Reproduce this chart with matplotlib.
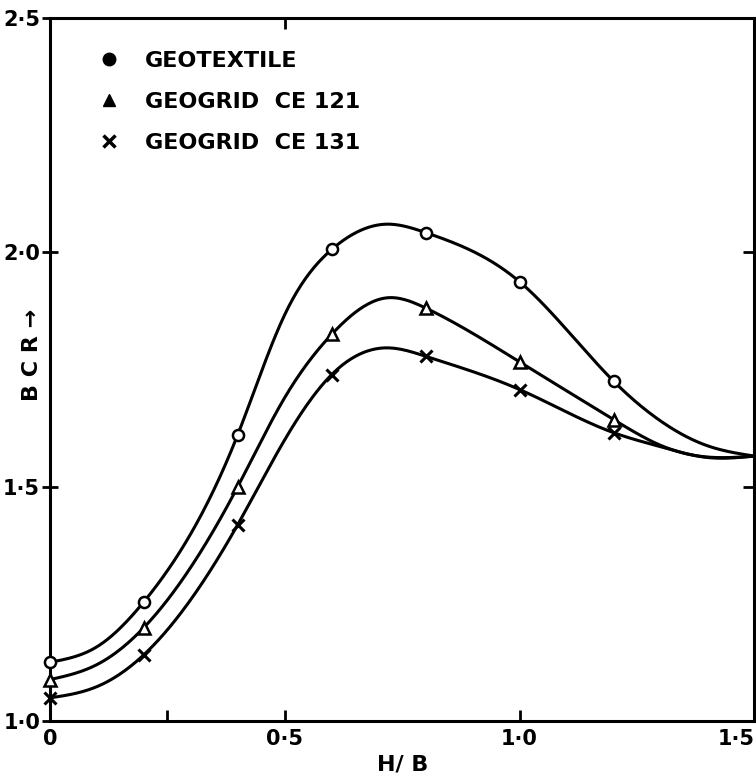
import matplotlib.pyplot as plt
import numpy as np
from matplotlib.lines import Line2D

# measured points (markers)
hb = [0.0, 0.2, 0.4, 0.6, 0.8, 1.0, 1.2]
bcr_geotextile = [1.125, 1.254, 1.611, 2.006, 2.042, 1.937, 1.725]
bcr_ce121 = [1.088, 1.199, 1.50, 1.825, 1.881, 1.766, 1.643]
bcr_ce131 = [1.049, 1.141, 1.419, 1.739, 1.778, 1.707, 1.615]

# hand-drawn curves
curve_hb = [0.0, 0.1, 0.2, 0.4, 0.5, 0.6, 0.72, 0.8, 1.0, 1.2, 1.3, 1.4, 1.5]
curve_geotextile = [1.125, 1.158, 1.254, 1.611, 1.867, 2.006, 2.060, 2.042, 1.937,
                    1.725, 1.640, 1.587, 1.565]
curve_ce121 = [1.088, 1.12, 1.199, 1.50, 1.69, 1.825, 1.903, 1.881, 1.766,
               1.643, 1.588, 1.563, 1.565]
curve_ce131 = [1.049, 1.073, 1.141, 1.419, 1.60, 1.739, 1.796, 1.778, 1.707,
               1.615, 1.585, 1.562, 1.565]

labels = ['GEOTEXTILE', 'GEOGRID  CE 121', 'GEOGRID  CE 131']
markers = ['o', '^', 'x']

x_ticks = [0, 0.5, 1.0, 1.5]
x_ticklabels = ['0', '0·5', '1·0', '1·5']
y_ticks = [1.0, 1.5, 2.0, 2.5]
y_ticklabels = ['1·0', '1·5', '2·0', '2·5']


def smooth(x, y, n=500):
    # natural cubic spline through the traced points
    x = np.asarray(x, float)
    y = np.asarray(y, float)
    k = len(x)
    h = np.diff(x)
    A = np.zeros((k, k))
    r = np.zeros(k)
    A[0, 0] = A[-1, -1] = 1
    for i in range(1, k - 1):
        A[i, i - 1] = h[i - 1]
        A[i, i] = 2 * (h[i - 1] + h[i])
        A[i, i + 1] = h[i]
        r[i] = 6 * ((y[i + 1] - y[i]) / h[i] - (y[i] - y[i - 1]) / h[i - 1])
    M = np.linalg.solve(A, r)
    xs = np.linspace(x[0], x[-1], n)
    i = np.clip(np.searchsorted(x, xs) - 1, 0, k - 2)
    hi = h[i]
    a = x[i + 1] - xs
    b = xs - x[i]
    ys = (M[i] * a**3 + M[i + 1] * b**3) / (6 * hi) \
        + (y[i] / hi - M[i] * hi / 6) * a + (y[i + 1] / hi - M[i + 1] * hi / 6) * b
    return xs, ys


fig = plt.figure(figsize=(7.56, 7.81), dpi=100)
ax = fig.add_axes([0.066, 0.077, 0.932, 0.900])

for cy, my, mk in zip([curve_geotextile, curve_ce121, curve_ce131],
                      [bcr_geotextile, bcr_ce121, bcr_ce131], markers):
    xs, ys = smooth(curve_hb, cy)
    ax.plot(xs, ys, color='black', lw=2.2, solid_capstyle='round', zorder=2)
    if mk == 'x':
        ax.plot(hb, my, ls='none', marker='x', ms=9, mew=2.2, color='black', zorder=3,
                clip_on=False)
    else:
        ax.plot(hb, my, ls='none', marker=mk, ms=8, mew=1.8, mfc='white', mec='black',
                zorder=3, clip_on=False)

ax.set_xlim(0, 1.5)
ax.set_ylim(1.0, 2.5)

for s in ax.spines.values():
    s.set_linewidth(2.2)

ax.set_xticks(x_ticks, x_ticklabels)
ax.set_xticks([0.25], minor=True)
ax.set_yticks(y_ticks, y_ticklabels)
ax.tick_params(axis='x', which='both', direction='in', length=8, width=2, pad=6,
               labelsize=15)
ax.tick_params(axis='y', direction='inout', length=12, width=2, pad=1, labelsize=15)
for t in ax.get_xticklabels() + ax.get_yticklabels():
    t.set_fontweight('bold')
ax.get_xticklabels()[-1].set_ha('right')

top = ax.secondary_xaxis('top')
top.set_xticks([0.5], labels=[])
top.tick_params(direction='in', length=8, width=2)
right = ax.secondary_yaxis('right')
right.set_yticks([1.5, 2.0], labels=[])
right.tick_params(direction='in', length=8, width=2)

ax.set_xlabel('H/ B', fontsize=16, fontweight='bold', labelpad=4)
ax.set_ylabel('B C R \u2192', fontsize=16, fontweight='bold')
ax.yaxis.set_label_coords(-0.011, 0.52)

handles = []
for mk in markers:
    if mk == 'x':
        handles.append(Line2D([], [], ls='none', marker='x', ms=8, mew=2.5, color='black'))
    else:
        handles.append(Line2D([], [], ls='none', marker=mk, ms=9, color='black'))
ax.legend(handles, labels, loc='upper left', bbox_to_anchor=(0.04, 0.982), frameon=False,
          handlelength=1.0, handletextpad=1.1, labelspacing=0.95,
          prop={'size': 16, 'weight': 'bold'})

fig.savefig('out.png', dpi=100)
